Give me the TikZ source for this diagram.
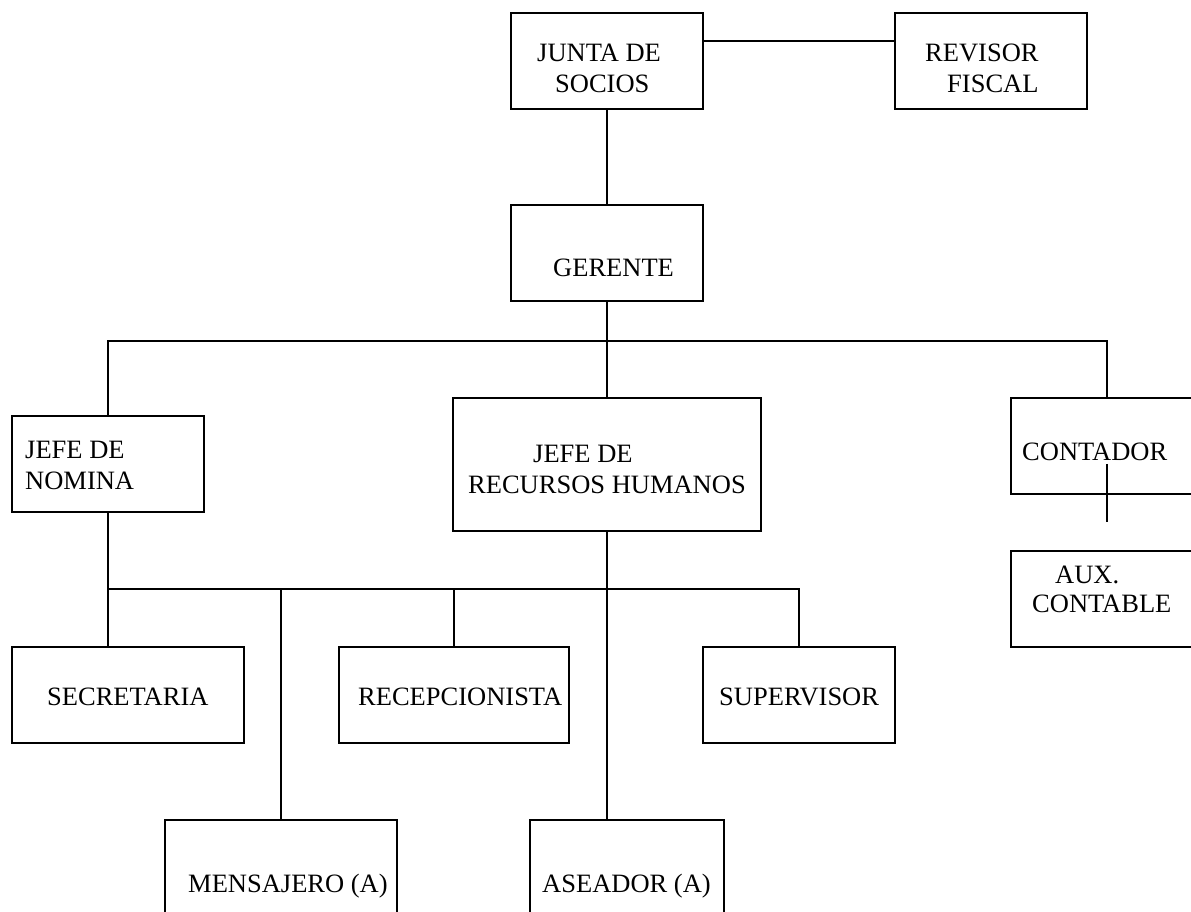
\documentclass[tikz,border=0pt]{standalone}
\usepackage{fontspec}
\setmainfont{Liberation Serif}
\begin{document}
\begin{tikzpicture}[x=1pt,y=-1pt,
  box/.style={draw, line width=1.6pt, rectangle, inner sep=0pt, minimum height=96pt},
  lbl/.style={anchor=base west, inner sep=0pt, font=\fontsize{26.5}{30}\selectfont},
  conn/.style={line width=1.6pt}]
\useasboundingbox (0,0) rectangle (1191,911);
\clip (0,0) rectangle (1191,911);
% boxes
\node[box, minimum width=192pt] (junta) at (607,61) {};
\node[box, minimum width=192pt] (revisor) at (991,61) {};
\node[box, minimum width=192pt] (gerente) at (607,253) {};
\node[box, minimum width=192pt] (nomina) at (108,464) {};
\node[box, minimum width=308pt, minimum height=133pt] (rrhh) at (607,464.5) {};
\node[box, minimum width=192pt] (contador) at (1107,446) {};
\node[box, minimum width=192pt] (aux) at (1107,599) {};
\node[box, minimum width=232pt] (secretaria) at (128,695) {};
\node[box, minimum width=230pt] (recep) at (454,695) {};
\node[box, minimum width=192pt] (supervisor) at (799,695) {};
\node[box, minimum width=232pt] (mensajero) at (281,868) {};
\node[box, minimum width=194pt] (aseador) at (627,868) {};
% labels
\node[lbl] (t1) at (537,61) {JUNTA DE};
\node[lbl] (t2) at (555,92) {SOCIOS};
\node[lbl] (t3) at (925,61) {REVISOR};
\node[lbl] (t4) at (947,92) {FISCAL};
\node[lbl] (t5) at (553,276) {GERENTE};
\node[lbl] (t6) at (25,458) {JEFE DE};
\node[lbl] (t7) at (25,489) {NOMINA};
\node[lbl] (t8) at (533,462) {JEFE DE};
\node[lbl] (t9) at (468,493) {RECURSOS HUMANOS};
\node[lbl] (t10) at (1022,460) {CONTADOR};
\node[lbl] (t11) at (1055,583) {AUX.};
\node[lbl] (t12) at (1032,612) {CONTABLE};
\node[lbl] (t13) at (47,705) {SECRETARIA};
\node[lbl] (t14) at (358,705) {RECEPCIONISTA};
\node[lbl] (t15) at (719,705) {SUPERVISOR};
\node[lbl] (t16) at (188,892) {MENSAJERO (A)};
\node[lbl] (t17) at (542,892) {ASEADOR (A)};
% levels
\coordinate (jr) at (0,41);
\coordinate (b1) at (0,341);
\coordinate (b2) at (0,589);
% connectors
\draw[conn] (junta.east |- jr) -- (revisor.west |- jr);
\draw[conn] (junta.south) -- (gerente.north);
\draw[conn] (gerente.south) -- (rrhh.north);
\draw[conn] (nomina.north) -- (nomina.north |- b1) -- (contador.north |- b1) -- (contador.north);
\draw[conn] (nomina.south) -- (nomina.south |- secretaria.north);
\draw[conn] (nomina.south |- b2) -- (supervisor.north |- b2) -- (supervisor.north);
\draw[conn] (mensajero.north |- b2) -- (mensajero.north);
\draw[conn] (recep.north |- b2) -- (recep.north);
\draw[conn] (rrhh.south) -- (rrhh.south |- aseador.north);
\draw[conn] ([yshift=31pt]contador.south) -- ([yshift=-27pt]contador.south);
\end{tikzpicture}
\end{document}
